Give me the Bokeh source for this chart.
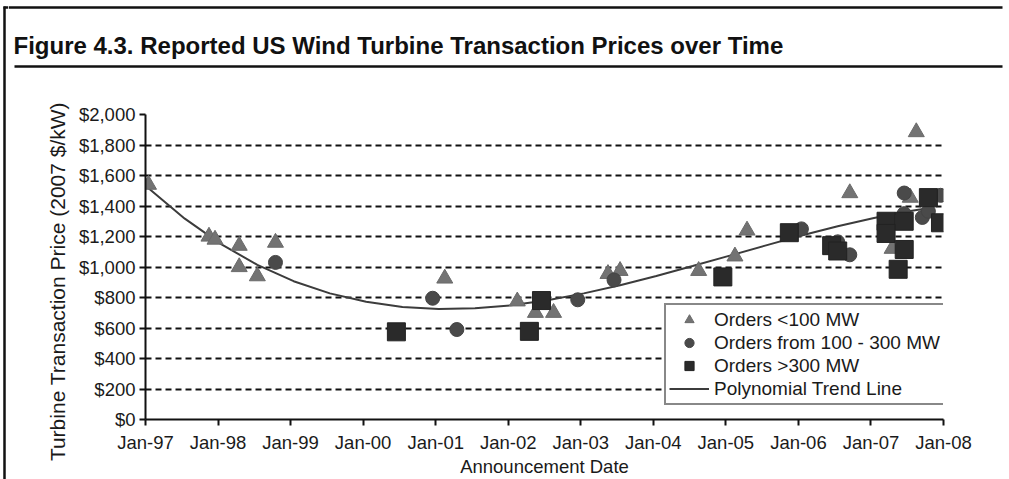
from bokeh.plotting import figure
from bokeh.layouts import row, column
from bokeh.models import (Range1d, FixedTicker, NumeralTickFormatter, Legend,
                          LegendItem, ColumnDataSource)
from bokeh.core.properties import value
from bokeh.embed import file_html
from bokeh.resources import INLINE

TITLE = "Figure 4.3. Reported US Wind Turbine Transaction Prices over Time"
X_LABEL = "Announcement Date"
Y_LABEL = "Turbine Transaction Price (2007 $/kW)"

TICK_YEARS = [1997, 1998, 1999, 2000, 2001, 2002, 2003, 2004, 2005, 2006, 2007, 2008]
TICK_LABELS = ["Jan-97", "Jan-98", "Jan-99", "Jan-00", "Jan-01", "Jan-02",
               "Jan-03", "Jan-04", "Jan-05", "Jan-06", "Jan-07", "Jan-08"]
Y_TICKS = [0, 200, 400, 600, 800, 1000, 1200, 1400, 1600, 1800, 2000]

# Orders <100 MW
SMALL_DATES = ["1997-01", "1997-11", "1997-12", "1998-04", "1998-04", "1998-07",
               "1998-10", "2001-02", "2002-02", "2002-05", "2002-08", "2003-05",
               "2003-07", "2004-08", "2005-02", "2005-04", "2006-09", "2007-07",
               "2007-08", "2007-04"]
SMALL_PRICES = [1540, 1200, 1180, 1140, 1000, 940, 1160, 925, 775, 700, 700, 955,
                975, 975, 1070, 1240, 1485, 1455, 1885, 1120]

# Orders from 100 - 300 MW
MID_DATES = ["1998-10", "2000-12", "2001-04", "2002-12", "2003-06", "2006-01",
             "2006-07", "2006-09", "2007-06", "2007-06", "2007-09", "2007-10",
             "2007-12"]
MID_PRICES = [1030, 795, 590, 785, 915, 1250, 1165, 1080, 1485, 1350, 1325, 1365, 1470]

# Orders >300 MW
LARGE_DATES = ["2000-06", "2002-04", "2002-06", "2004-12", "2005-11", "2006-06",
               "2006-07", "2007-03", "2007-06", "2007-03", "2007-06", "2007-05",
               "2007-10", "2007-12"]
LARGE_PRICES = [575, 578, 780, 935, 1225, 1140, 1105, 1300, 1300, 1220, 1115, 985,
                1455, 1290]

# Polynomial trend line
TREND_DATES = ["1997-01", "1997-07", "1998-01", "1998-07", "1999-01", "1999-07",
               "2000-01", "2000-07", "2001-01", "2001-07", "2002-01", "2002-07",
               "2003-01", "2003-07", "2004-01", "2004-07", "2005-01", "2005-07",
               "2006-01", "2006-07", "2007-01", "2007-07", "2007-11"]
TREND_PRICES = [1517, 1317, 1150, 1014, 907, 827, 772, 738, 725, 729, 749, 782,
                827, 880, 941, 1006, 1073, 1140, 1206, 1267, 1321, 1367, 1392]

LEGEND_LABELS = ["Orders <100 MW", "Orders from 100 - 300 MW", "Orders >300 MW",
                 "Polynomial Trend Line"]


def to_year(s):
    y, m = s.split("-")
    return int(y) + (int(m) - 1) / 12 + 1 / 24


FONT = "Liberation Sans"
INK = "#111111"


def blank(width, height):
    f = figure(width=width, height=height, output_backend="svg",
               toolbar_location=None, x_axis_location=None, y_axis_location=None,
               x_range=Range1d(0, width), y_range=Range1d(height, 0),
               min_border=0, margin=0)
    f.min_border_left = f.min_border_right = 0
    f.min_border_top = f.min_border_bottom = 0
    f.frame_align = False
    f.outline_line_color = None
    f.xgrid.visible = False
    f.ygrid.visible = False
    f.background_fill_color = "white"
    f.border_fill_color = "white"
    return f


# left page border strip
strip = blank(8, 479)
strip.line(x=[4, 4], y=[6, 479], line_color=INK, line_width=2.5)
strip.line(x=[3, 8], y=[7, 7], line_color=INK, line_width=2.5)

# header: title and rule
header = blank(1001, 70)
header.line(x=[0, 994], y=[7, 7], line_color=INK, line_width=2.5)
header.line(x=[6, 994], y=[66, 66], line_color=INK, line_width=2.5)
header.text(x=[5], y=[45], text=[TITLE], text_font=value(FONT),
            text_font_size="24px", text_font_style="bold", text_color=INK,
            text_baseline="alphabetic", text_align="left")

# main chart
p = figure(width=1001, height=409, output_backend="svg", toolbar_location=None,
           x_range=Range1d(1997, 2008), y_range=Range1d(0, 2000),
           min_border_left=137, min_border_right=66, min_border_top=44,
           min_border_bottom=57, margin=0)
p.frame_align = False
p.outline_line_color = None
p.background_fill_color = "white"
p.border_fill_color = "white"

p.xaxis.ticker = FixedTicker(ticks=TICK_YEARS)
p.xaxis.major_label_overrides = {float(y): l for y, l in zip(TICK_YEARS, TICK_LABELS)}
p.yaxis.ticker = FixedTicker(ticks=Y_TICKS)
p.yaxis.formatter = NumeralTickFormatter(format="$0,0")
for ax in (p.xaxis, p.yaxis):
    ax.axis_line_color = INK
    ax.axis_line_width = 2
    ax.major_tick_line_color = INK
    ax.major_tick_line_width = 2
    ax.major_tick_in = 0
    ax.major_tick_out = 6
    ax.minor_tick_line_color = None
    ax.major_label_text_font = FONT
    ax.major_label_text_font_size = "18.5px"
    ax.major_label_text_color = "#1a1a1a"
    ax.axis_label_text_font = FONT
    ax.axis_label_text_font_style = "normal"
    ax.axis_label_text_color = "#1a1a1a"
    ax.major_label_standoff = 4
p.xaxis.major_label_standoff = 6
p.xaxis.axis_label = X_LABEL
p.xaxis.axis_label_text_font_size = "18.5px"
p.xaxis.axis_label_standoff = 0
p.yaxis.axis_label = Y_LABEL + "     "
p.yaxis.axis_label_text_font_size = "21px"
p.yaxis.axis_label_standoff = 7

p.xgrid.grid_line_color = None
p.ygrid.ticker = FixedTicker(ticks=Y_TICKS[1:])
p.ygrid.grid_line_color = INK
p.ygrid.grid_line_width = 2
p.ygrid.grid_line_dash = "6 4"

trend_src = ColumnDataSource(dict(x=[to_year(d) for d in TREND_DATES], y=TREND_PRICES))
small_src = ColumnDataSource(dict(x=[to_year(d) for d in SMALL_DATES], y=SMALL_PRICES))
mid_src = ColumnDataSource(dict(x=[to_year(d) for d in MID_DATES], y=MID_PRICES))
large_src = ColumnDataSource(dict(x=[to_year(d) for d in LARGE_DATES], y=LARGE_PRICES))

r_line = p.line("x", "y", source=trend_src, line_color="#3c3c3c", line_width=2)
r_tri = p.scatter("x", "y", source=small_src, marker="triangle", size=16,
                  fill_color="#737373", line_color="#6a6a6a", line_width=1)
r_cir = p.scatter("x", "y", source=mid_src, marker="circle", size=14,
                  fill_color="#4a4a4a", line_color="#444444", line_width=1)
r_sq = p.scatter("x", "y", source=large_src, marker="square", size=18,
                 fill_color="#2a2a2a", line_color="#222222", line_width=1)

legend = Legend(items=[LegendItem(label=LEGEND_LABELS[0], renderers=[r_tri]),
                       LegendItem(label=LEGEND_LABELS[1], renderers=[r_cir]),
                       LegendItem(label=LEGEND_LABELS[2], renderers=[r_sq]),
                       LegendItem(label=LEGEND_LABELS[3], renderers=[r_line])],
                location=(519, 14))
legend.label_text_font = FONT
legend.label_text_font_size = "19px"
legend.label_text_color = "#1a1a1a"
legend.label_height = 23
legend.glyph_height = 23
legend.glyph_width = 40
legend.label_standoff = 5
legend.spacing = 0
legend.padding = 3
legend.margin = 0
legend.border_line_color = INK
legend.border_line_width = 2
legend.background_fill_color = "white"
legend.background_fill_alpha = 1
p.add_layout(legend)

layout = row(strip, column(header, p, spacing=0), spacing=0)

open("out.html", "w").write(file_html(layout, INLINE))
